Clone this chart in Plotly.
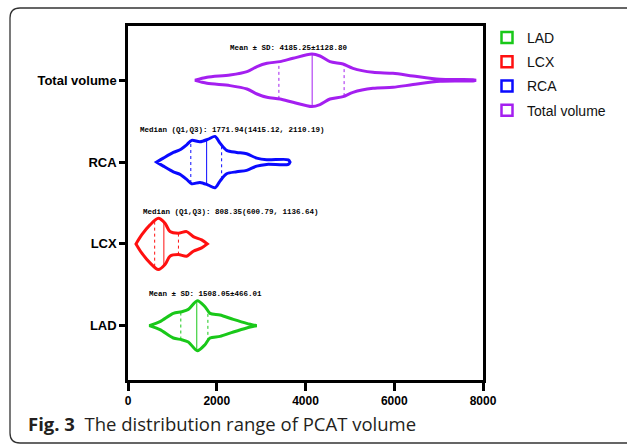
import numpy as np
import plotly.graph_objects as go

categories = ["LAD", "LCX", "RCA", "Total volume"]
colors = ["#19c819", "#ff1010", "#0a0aff", "#a41ff0"]

# density profiles (value, relative half-width)
lad_x = [481, 721, 1021, 1209, 1360, 1562, 1735, 1848, 2073, 2374, 2674, 2900]
lad_d = [0, 4, 12.3, 14, 16.3, 25, 19, 12.3, 10.7, 6.3, 2.3, 0]
lcx_x = [180, 308, 496, 683, 834, 946, 1134, 1322, 1472, 1660, 1788]
lcx_d = [0, 9, 19, 25.7, 20.7, 12.3, 10.7, 12.3, 7.3, 4, 0]
rca_x = [646, 796, 1022, 1172, 1322, 1435, 1622, 1810, 1960, 2073, 2223, 2449, 2674, 2900, 3125, 3613, 3651]
rca_d = [0, 4, 9.7, 12.3, 17.3, 21.7, 20.3, 23, 25.7, 19, 11.7, 9.7, 8.3, 4, 2.3, 2.3, 0]
tot_x = [1510, 1780, 2299, 2682, 2907, 3132, 3425, 3718, 4146, 4327, 4552, 4845, 5070, 5521, 5972, 6423, 7031, 7774, 7842]
tot_d = [0, 3, 5.3, 8.7, 13.7, 17, 18.7, 22, 26.3, 24.3, 18.7, 16.3, 12, 8, 7, 4.3, 1, 0.6, 0]

# quartiles and medians
q1_vals = [1190, 600.79, 1415.12, 3400]
median_vals = [1550, 808.35, 1771.94, 4150]
q3_vals = [1800, 1136.64, 2110.19, 4870]

stat_labels = [
    "Mean \u00b1 SD: 1508.05\u00b1466.01",
    "Median (Q1,Q3): 808.35(600.79, 1136.64)",
    "Median (Q1,Q3): 1771.94(1415.12, 2110.19)",
    "Mean \u00b1 SD: 4185.25\u00b11128.80",
]

profiles = [(lad_x, lad_d), (lcx_x, lcx_d), (rca_x, rca_d), (tot_x, tot_d)]
SCALE = 1 / 81.8

W, H = 627, 444
L, R, T, B = 128, 483, 26, 380


def px(xp):
    return (xp - L) / (R - L)


def py(yp):
    return (B - yp) / (B - T)


fig = go.Figure()
for i, (cat, col, (xs, ds)) in enumerate(zip(categories, colors, profiles)):
    xs = np.array(xs, float)
    ds = np.array(ds, float) * SCALE
    poly_x = np.concatenate([xs, xs[::-1], xs[:1]])
    poly_y = np.concatenate([i + ds, i - ds[::-1], [i]])
    fig.add_trace(go.Scatter(
        x=poly_x, y=poly_y, mode="lines", name=cat, legendgroup=cat, showlegend=False,
        line=dict(color=col, width=3, shape="spline", smoothing=0.8),
        fill="toself", fillcolor="rgba(255,255,255,0)",
    ))
    # legend entry
    fig.add_trace(go.Scatter(
        x=[None], y=[None], mode="markers", name=cat, legendgroup=cat,
        marker=dict(symbol="square-open", size=11, color=col, line=dict(width=2.5, color=col)),
    ))
    for v, dash in [(q1_vals[i], "dot"), (median_vals[i], "solid"), (q3_vals[i], "dot")]:
        h = np.interp(v, xs, ds)
        fig.add_trace(go.Scatter(
            x=[v, v], y=[i - h, i + h], mode="lines", showlegend=False, legendgroup=cat,
            line=dict(color=col, width=1, dash=dash), hoverinfo="skip",
        ))

ann_pos = [(421, "left"), (286, "left"), (232, "left"), (3639, "center")]
for i, (lab, (ax, anc)) in enumerate(zip(stat_labels, ann_pos)):
    fig.add_annotation(x=ax, y=i + 0.39, text=lab, showarrow=False, xanchor=anc,
                       yanchor="middle",
                       font=dict(family="Liberation Mono", size=7.5, color="#000",
                                 weight="bold"))

# caption
fig.add_annotation(xref="paper", yref="paper", x=px(26), y=py(423), xanchor="left",
                   yanchor="middle", showarrow=False,
                   text="<b>Fig. 3</b>  The distribution range of PCAT volume",
                   font=dict(family="Open Sans", size=18.5, color="#231f20"))

# outer rounded frame
r = 10
path = (f"M {px(640)},{py(8)} L {px(10 + r)},{py(8)} "
        f"Q {px(10)},{py(8)} {px(10)},{py(8 + r)} "
        f"L {px(10)},{py(443 - r)} Q {px(10)},{py(443)} {px(10 + r)},{py(443)} "
        f"L {px(640)},{py(443)}")
fig.add_shape(type="path", xref="paper", yref="paper", path=path,
              line=dict(color="#333", width=1.3), layer="below")

fig.update_layout(
    width=W, height=H,
    margin=dict(l=L, r=W - R, t=T, b=H - B),
    paper_bgcolor="white", plot_bgcolor="white",
    showlegend=True,
    legend=dict(x=px(487), y=py(22), xanchor="left", yanchor="top",
                font=dict(family="Liberation Sans", size=14, color="#111"),
                tracegroupgap=3, itemwidth=30, bgcolor="rgba(0,0,0,0)"),
    xaxis=dict(range=[0, 8000], tickvals=[0, 2000, 4000, 6000, 8000],
               showline=True, linecolor="black", linewidth=2.5, mirror=True,
               ticks="outside", ticklen=8, tickwidth=2.5, tickcolor="black",
               showgrid=False, zeroline=False,
               tickfont=dict(family="Liberation Sans", size=12, color="black", weight="bold")),
    yaxis=dict(range=[-0.664, 3.664], tickvals=[0, 1, 2, 3], ticktext=categories,
               showline=True, linecolor="black", linewidth=2.5, mirror=True,
               ticks="outside", ticklen=6, tickwidth=2.5, tickcolor="black",
               showgrid=False, zeroline=False,
               tickfont=dict(family="Liberation Sans", size=13, color="black", weight="bold")),
)

fig.write_html("out.html", post_script="document.body.style.margin='0';",
               config={"displayModeBar": False})
